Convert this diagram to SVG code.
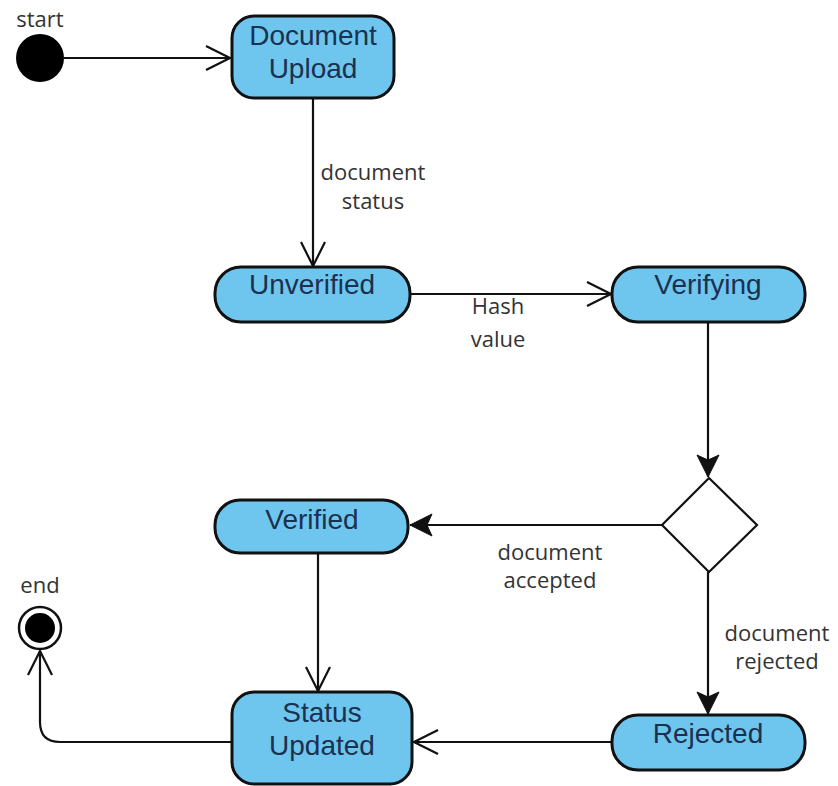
<svg xmlns="http://www.w3.org/2000/svg" width="838" height="786" viewBox="0 0 838 786">
<defs>
<style>
.st{fill:#6EC5EE;stroke:#111;stroke-width:3}
.nt{font-family:"Liberation Sans",Arial,sans-serif;font-size:28px;fill:#1B3150;text-anchor:middle}
.lb{font-family:"Open Sans","DejaVu Sans",sans-serif;font-size:22px;fill:#333;text-anchor:middle}
.ln{fill:none;stroke:#111;stroke-width:2.2}
</style>
<marker id="open" viewBox="0 0 30 30" refX="28" refY="15" markerWidth="30" markerHeight="30" markerUnits="userSpaceOnUse" orient="auto">
<path d="M4,3 L28,15 L4,27" fill="none" stroke="#111" stroke-width="2.2"/>
</marker>
<marker id="block" viewBox="0 0 30 30" refX="26" refY="15" markerWidth="30" markerHeight="30" markerUnits="userSpaceOnUse" orient="auto">
<path d="M4,4 L26,15 L4,26 L9,15 Z" fill="#111" stroke="#111" stroke-width="1"/>
</marker>
</defs>
<rect width="838" height="786" fill="#fff"/>
<g id="connectors">
<path class="ln" d="M64,58 L230,58" marker-end="url(#open)"/>
<path class="ln" d="M313,98 L313,266" marker-end="url(#open)"/>
<path class="ln" d="M410,294 L611,294" marker-end="url(#open)"/>
<path class="ln" d="M708,322 L708,477" marker-end="url(#block)"/>
<path class="ln" d="M662,525 L410,525" marker-end="url(#block)"/>
<path class="ln" d="M708,572 L708,714" marker-end="url(#block)"/>
<path class="ln" d="M318,553 L318,691" marker-end="url(#open)"/>
<path class="ln" d="M612,742 L414,742" marker-end="url(#open)"/>
<path class="ln" d="M232,742 L60,742 Q40,742 40,722 L40,651" marker-end="url(#open)"/>
<text class="lb" x="373" y="180">document</text>
<text class="lb" x="373" y="209">status</text>
<text class="lb" x="498" y="314">Hash</text>
<text class="lb" x="498" y="347">value</text>
<text class="lb" x="550" y="560">document</text>
<text class="lb" x="550" y="588">accepted</text>
<text class="lb" x="777" y="641">document</text>
<text class="lb" x="777" y="669">rejected</text>
</g>
<g id="start">
<circle cx="40" cy="58" r="24" fill="#000"/>
<text class="lb" x="40" y="27">start</text>
</g>
<g id="end">
<circle cx="40" cy="628" r="21" fill="#fff" stroke="#111" stroke-width="2.5"/>
<circle cx="40" cy="628" r="15" fill="#000"/>
<text class="lb" x="40" y="593">end</text>
</g>
<g id="document-upload">
<rect class="st" x="232" y="16" width="162" height="82" rx="22"/>
<text class="nt" x="313" y="45">Document</text>
<text class="nt" x="313" y="78">Upload</text>
</g>
<g id="unverified">
<rect class="st" x="215" y="267" width="195" height="55" rx="26"/>
<text class="nt" x="312" y="294">Unverified</text>
</g>
<g id="verifying">
<rect class="st" x="612" y="267" width="193" height="55" rx="26"/>
<text class="nt" x="708" y="294">Verifying</text>
</g>
<g id="decision">
<path d="M709,478 L757,525 L709,572 L662,525 Z" fill="#fff" stroke="#111" stroke-width="2.2"/>
</g>
<g id="verified">
<rect class="st" x="215" y="500" width="193" height="53" rx="25"/>
<text class="nt" x="312" y="529">Verified</text>
</g>
<g id="rejected">
<rect class="st" x="612" y="715" width="193" height="55" rx="26"/>
<text class="nt" x="708" y="743">Rejected</text>
</g>
<g id="status-updated">
<rect class="st" x="232" y="692" width="180" height="92" rx="22"/>
<text class="nt" x="322" y="722">Status</text>
<text class="nt" x="322" y="755">Updated</text>
</g>
</svg>
